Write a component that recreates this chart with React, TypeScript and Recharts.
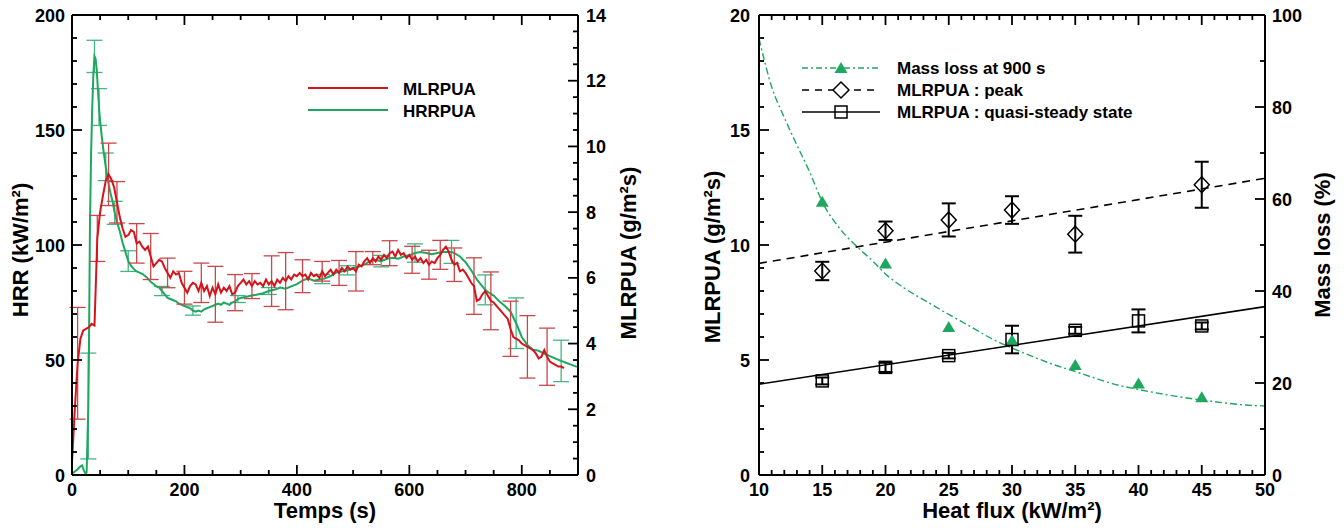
import React from "react";
import { ComposedChart, Line, Scatter, XAxis, YAxis, ErrorBar, Legend } from "recharts";

if (typeof document !== "undefined") document.body.style.margin = "0";

const FONT = "'Liberation Sans', Arial, Helvetica, sans-serif";
const RED = "#d3141b";
const RED_BAR = "#c9474a";
const GREEN = "#1ea75e";
const GREEN_BAR = "#44b482";

// ---- left chart: time series (t [s], value[, error]) ----
// MLRPUA in g/m²s (right axis)
const mlrpua = [
  [0, 0.4], [5, 2.0], [10, 3.4, 1.7], [15, 4.15], [20, 4.4], [25, 4.45], [30, 4.5], [35, 4.6], [40, 4.55],
  [45, 7.2, 0.7], [50, 8.0], [55, 8.5], [60, 8.95], [65, 9.15, 0.95], [70, 9.0], [75, 8.75], [80, 8.3, 0.63],
  [85, 7.85], [90, 7.5], [95, 7.25], [100, 7.3], [105, 7.45], [110, 7.4], [115, 7.05, 0.6], [120, 7.1],
  [125, 6.95], [130, 6.85], [135, 6.95], [140, 6.65, 0.7], [145, 6.35], [150, 6.45], [155, 6.55], [160, 6.5],
  [165, 6.3], [170, 6.15, 0.45], [175, 6.0], [180, 6.2], [185, 6.1], [190, 6.15], [195, 5.85], [200, 5.7, 0.5],
  [205, 5.55], [210, 5.75], [215, 5.85], [220, 5.8], [225, 5.6], [230, 5.85, 0.6], [235, 5.6], [240, 5.75],
  [245, 5.45], [250, 5.7], [255, 5.5, 0.85], [260, 5.8], [265, 5.55], [270, 5.7], [275, 5.6], [280, 5.75],
  [285, 5.5], [290, 5.55, 0.55], [295, 5.75], [300, 5.85], [305, 5.95], [310, 5.8], [315, 5.9], [320, 5.75, 0.38],
  [325, 5.9], [330, 5.8], [335, 5.85], [340, 5.75], [345, 5.95], [350, 5.8], [355, 5.9, 0.77], [360, 5.75],
  [365, 5.95], [370, 5.85], [375, 6.0], [380, 5.9, 0.87], [385, 6.05], [390, 5.95], [395, 6.1], [400, 6.05],
  [405, 6.15], [410, 6.05, 0.5], [415, 6.1], [420, 5.95], [425, 6.15], [430, 6.05], [435, 6.1], [440, 6.0],
  [445, 6.2, 0.3], [450, 6.05], [455, 6.15], [460, 6.25], [465, 6.1], [470, 6.25], [475, 6.15, 0.38], [480, 6.3],
  [485, 6.2], [490, 6.35], [495, 6.25], [500, 6.3], [505, 6.2, 0.6], [510, 6.4], [515, 6.35], [520, 6.5],
  [525, 6.6], [530, 6.45], [535, 6.6, 0.2], [540, 6.5], [545, 6.65], [550, 6.55], [555, 6.7], [560, 6.6],
  [565, 6.75, 0.38], [570, 6.8], [575, 6.65], [580, 6.85], [585, 6.7], [590, 6.75], [595, 6.6], [600, 6.7],
  [605, 6.55, 0.41], [610, 6.65], [615, 6.5], [620, 6.6], [625, 6.45], [630, 6.55], [635, 6.4, 0.44], [640, 6.5],
  [645, 6.45], [650, 6.6], [655, 6.7, 0.44], [660, 6.85], [665, 6.95], [670, 6.8], [675, 6.55], [680, 6.4, 0.51],
  [685, 6.45], [690, 6.2], [695, 6.25], [700, 6.15], [705, 6.0], [710, 5.85], [715, 5.75, 0.86], [720, 5.3],
  [725, 5.35], [730, 5.5], [735, 5.6], [740, 5.45], [745, 5.3, 0.88], [750, 5.25], [755, 5.15], [760, 5.05],
  [765, 4.95], [770, 4.85], [775, 4.75], [780, 4.45, 0.84], [785, 4.2], [790, 4.15], [795, 4.1], [800, 4.0],
  [805, 3.95], [810, 3.9, 0.95], [815, 3.85], [820, 3.8], [825, 3.7], [830, 3.55], [835, 3.6], [840, 3.8],
  [845, 3.6, 0.87], [850, 3.45], [855, 3.4], [860, 3.35], [865, 3.3], [870, 3.3], [875, 3.25],
];

// HRRPUA in kW/m² (left axis)
const hrrpua = [
  [0, 0.5], [5, 1.5], [10, 2.5], [15, 3.8], [18, 4.2], [21, 2.0], [24, 0.5], [26, 1], [28, 20], [29, 30, 23],
  [30, 50], [32, 110], [34, 140], [36, 160], [38, 174], [40, 182, 7], [42, 181], [44, 176], [46, 168],
  [48, 160, 8], [50, 154], [53, 147], [56, 141], [60, 134, 6], [64, 128], [68, 123], [72, 119], [76, 114, 5],
  [80, 110], [85, 106], [90, 101], [95, 97], [100, 93, 4.5], [105, 91], [110, 89.5], [115, 88.5], [120, 88],
  [125, 87.5], [130, 86.5], [135, 85.5], [140, 84], [145, 83], [150, 82], [155, 81.5], [160, 80, 2], [165, 78.5],
  [170, 77], [175, 76.5], [180, 76], [185, 75.5], [190, 74.5], [195, 74], [200, 73.5], [205, 73], [210, 72.5],
  [215, 71.5, 2], [220, 71], [225, 71.5], [230, 71], [235, 72], [240, 72.5], [245, 73], [250, 73.5], [255, 74],
  [260, 74.5], [265, 74], [270, 75], [275, 74.5], [280, 74], [285, 75], [290, 75.5], [295, 76.5, 1.5], [300, 77],
  [310, 77.5], [320, 78], [330, 78.5], [340, 79], [350, 80, 1.5], [360, 80.5], [370, 81.5], [380, 81], [390, 82],
  [400, 83], [410, 84.5], [420, 85.5], [430, 84.5], [440, 85], [445, 85.2, 2], [450, 85.5], [460, 86.5],
  [470, 88], [480, 88.5], [490, 89, 2], [500, 90], [510, 90.5], [520, 91.5], [530, 93], [540, 93.5],
  [550, 93, 2.5], [560, 94], [570, 94.5], [580, 94], [590, 95], [600, 95.5], [610, 96.5, 4], [620, 97],
  [630, 96.5], [640, 96], [650, 96.5], [660, 97], [670, 97], [675, 97, 5], [680, 96.5], [690, 95], [700, 92.5],
  [710, 89], [720, 85], [730, 82], [735, 80.5, 6.5], [740, 79.5], [750, 78], [760, 75.5], [770, 73.5], [780, 71],
  [790, 66, 11], [800, 60], [810, 56.5], [820, 54.5], [830, 54], [840, 52.8], [850, 51.7], [860, 50.6],
  [870, 49.6, 9], [880, 48.7], [890, 47.8], [898, 47],
];

const timeTicks = [0, 50, 100, 150, 200, 250, 300, 350, 400, 450, 500, 550, 600, 650, 700, 750, 800, 850, 900];
const timeLabels = [0, 200, 400, 600, 800];
const hrrTicks = [0, 10, 20, 30, 40, 50, 60, 70, 80, 90, 100, 110, 120, 130, 140, 150, 160, 170, 180, 190, 200];
const hrrLabels = [0, 50, 100, 150, 200];
const mlrTicks = [0, 0.5, 1, 1.5, 2, 2.5, 3, 3.5, 4, 4.5, 5, 5.5, 6, 6.5, 7, 7.5, 8, 8.5, 9, 9.5, 10, 10.5, 11, 11.5, 12, 12.5, 13, 13.5, 14];
const mlrLabels = [0, 2, 4, 6, 8, 10, 12, 14];

// ---- right chart: heat flux ----
const fluxPoints = [15, 20, 25, 30, 35, 40, 45];
const massLoss = [59.4, 46.0, 32.2, 29.3, 23.9, 19.9, 16.9];
const peakFlux = [15, 20, 25, 30, 35, 45];
const peakValues = [8.87, 10.62, 11.09, 11.52, 10.47, 12.62];
const peakErrors = [0.4, 0.4, 0.72, 0.6, 0.8, 1.0];
const steadyValues = [4.09, 4.68, 5.19, 5.89, 6.29, 6.7, 6.48];
const steadyErrors = [0.15, 0.2, 0.12, 0.6, 0.15, 0.5, 0.15];
const massFitFlux = [10, 11, 12, 13, 14, 15, 16.5, 18, 19, 20, 21.5, 23.5, 25, 26.5, 28.5, 30, 31.5, 33.5, 35, 36.5, 38, 40, 41.5, 43, 45, 47, 49, 50];
const massFitValues = [94.9, 84.4, 77.7, 71.7, 65.9, 59.4, 53.2, 49.0, 46.5, 43.7, 40.6, 37.3, 34.9, 32.6, 29.5, 27.6, 25.9, 23.8, 22.5, 21.1, 19.8, 18.6, 17.8, 17.1, 16.3, 15.6, 15.1, 15.0];
const fitFlux = [10, 50];
const peakFit = [9.2, 12.9];
const steadyFit = [3.95, 7.32];

const fluxTicks = [10, 11, 12, 13, 14, 15, 16, 17, 18, 19, 20, 21, 22, 23, 24, 25, 26, 27, 28, 29, 30, 31, 32, 33, 34, 35, 36, 37, 38, 39, 40, 41, 42, 43, 44, 45, 46, 47, 48, 49, 50];
const fluxLabels = [10, 15, 20, 25, 30, 35, 40, 45, 50];
const rateTicks = [0, 1, 2, 3, 4, 5, 6, 7, 8, 9, 10, 11, 12, 13, 14, 15, 16, 17, 18, 19, 20];
const rateLabels = [0, 5, 10, 15, 20];
const massTicks = [0, 10, 20, 30, 40, 50, 60, 70, 80, 90, 100];
const massLabels = [0, 20, 40, 60, 80, 100];

const mlrData = mlrpua.map(([t, v, e]) => ({ t, v, e }));
const hrrData = hrrpua.map(([t, v, e]) => ({ t, v, e }));
const massData = fluxPoints.map((x, i) => ({ x, y: massLoss[i] }));
const peakData = peakFlux.map((x, i) => ({ x, y: peakValues[i], e: peakErrors[i] }));
const steadyData = fluxPoints.map((x, i) => ({ x, y: steadyValues[i], e: steadyErrors[i] }));
const massFitData = massFitFlux.map((x, i) => ({ x, y: massFitValues[i] }));
const peakFitData = fitFlux.map((x, i) => ({ x, y: peakFit[i] }));
const steadyFitData = fitFlux.map((x, i) => ({ x, y: steadyFit[i] }));

const textStyle = { fontFamily: FONT, fontSize: 18, fontWeight: 700, fill: "#000" };
const legendStyle = { fontFamily: FONT, fontSize: 17, fontWeight: 700, fill: "#000" };
const titleStyle = { fontFamily: FONT, fontSize: 22, fontWeight: 700, fill: "#000" };
const axisLine = { stroke: "#000", strokeWidth: 2 };

// inward ticks, long on the majors, text only where labelled
function makeTick(side: string, majors: number[], labelled: boolean, gap = 7) {
  return (props: any) => {
    const { x, y, payload } = props;
    const v = payload.value;
    const major = majors.indexOf(v) >= 0;
    const len = major ? 10 : 5;
    let x2 = x;
    let y2 = y;
    if (side === "bottom") y2 = y - len;
    if (side === "top") y2 = y + len;
    if (side === "left") x2 = x + len;
    if (side === "right") x2 = x - len;
    let label = null;
    if (labelled && major) {
      if (side === "bottom") label = <text x={x} y={y + 21} textAnchor="middle" style={textStyle}>{v}</text>;
      if (side === "left") label = <text x={x - gap} y={y + 6.5} textAnchor="end" style={textStyle}>{v}</text>;
      if (side === "right") label = <text x={x + gap} y={y + 6.5} textAnchor="start" style={textStyle}>{v}</text>;
    }
    return (
      <g>
        <line x1={x} y1={y} x2={x2} y2={y2} stroke="#000" strokeWidth={1.8} />
        {label}
      </g>
    );
  };
}

const hTitle = (text: string, below: number) => (p: any) => {
  const vb = p.viewBox;
  return (
    <text x={vb.x + vb.width / 2} y={vb.y + below} textAnchor="middle" style={titleStyle}>
      {text}
    </text>
  );
};

const vTitle = (text: string, dx: number, dy = 0) => (p: any) => {
  const vb = p.viewBox;
  const x = vb.x + dx;
  const y = vb.y + vb.height / 2 + dy;
  return (
    <text x={x} y={y} textAnchor="middle" dominantBaseline="central" transform={`rotate(-90 ${x} ${y})`} style={titleStyle}>
      {text}
    </text>
  );
};

const axisCommon = {
  type: "number" as const,
  interval: 0 as const,
  allowDataOverflow: true,
  tickSize: 0,
  tickMargin: 0,
  tickLine: false,
  axisLine,
};

function LeftLegend() {
  return (
    <svg width={200} height={56}>
      <line x1={8} x2={88} y1={18} y2={18} stroke={RED} strokeWidth={2} />
      <text x={103} y={24.5} style={legendStyle}>MLRPUA</text>
      <line x1={8} x2={88} y1={40} y2={40} stroke={GREEN} strokeWidth={2} />
      <text x={103} y={46.5} style={legendStyle}>HRRPUA</text>
    </svg>
  );
}

function RightLegend() {
  const y = [18, 40, 62];
  const mx = 49;
  return (
    <svg width={420} height={78}>
      <line x1={10} x2={88} y1={y[0]} y2={y[0]} stroke={GREEN} strokeWidth={1.4} strokeDasharray="6 3 2 3" />
      <path d={`M${mx},${y[0] - 6}L${mx + 6.5},${y[0] + 5}L${mx - 6.5},${y[0] + 5}Z`} fill={GREEN} />
      <text x={105} y={y[0] + 6} style={legendStyle}>Mass loss at 900 s</text>
      <line x1={10} x2={88} y1={y[1]} y2={y[1]} stroke="#000" strokeWidth={1.6} strokeDasharray="7 6" />
      <path d={`M${mx},${y[1] - 8}L${mx + 8},${y[1]}L${mx},${y[1] + 8}L${mx - 8},${y[1]}Z`} fill="#fff" stroke="#000" strokeWidth={1.5} />
      <text x={105} y={y[1] + 6} style={legendStyle}>MLRPUA : peak</text>
      <line x1={10} x2={88} y1={y[2]} y2={y[2]} stroke="#000" strokeWidth={1.6} />
      <rect x={mx - 6} y={y[2] - 6} width={12} height={12} fill="none" stroke="#000" strokeWidth={1.5} />
      <text x={105} y={y[2] + 6} style={legendStyle}>MLRPUA : quasi-steady state</text>
    </svg>
  );
}

const triangle = (p: any) => (
  <path d={`M${p.cx},${p.cy - 6}L${p.cx + 6.5},${p.cy + 5}L${p.cx - 6.5},${p.cy + 5}Z`} fill={GREEN} />
);
const diamond = (p: any) => (
  <path d={`M${p.cx},${p.cy - 8}L${p.cx + 7.5},${p.cy}L${p.cx},${p.cy + 8}L${p.cx - 7.5},${p.cy}Z`} fill="none" stroke="#000" strokeWidth={1.5} />
);
const square = (p: any) => (
  <rect x={p.cx - 6} y={p.cy - 6} width={12} height={12} fill="none" stroke="#000" strokeWidth={1.5} />
);

function TimeChart() {
  return (
    <ComposedChart width={672} height={528} margin={{ top: 14, right: 0, bottom: 0, left: 0 }}>
      <XAxis {...axisCommon} xAxisId="b" dataKey="t" domain={[0, 900]} ticks={timeTicks} height={53}
        tick={makeTick("bottom", timeLabels, true)} label={hTitle("Temps (s)", 43)} />
      <XAxis {...axisCommon} xAxisId="top" orientation="top" dataKey="t" domain={[0, 900]} ticks={timeTicks} height={1}
        tick={makeTick("top", timeLabels, false)} />
      <YAxis {...axisCommon} yAxisId="hrr" domain={[0, 200]} ticks={hrrTicks} width={72}
        tick={makeTick("left", hrrLabels, true, 7)} label={vTitle("HRR (kW/m²)", 20, 5)} />
      <YAxis {...axisCommon} yAxisId="mlr" orientation="right" domain={[0, 14]} ticks={mlrTicks} width={94}
        tick={makeTick("right", mlrLabels, true, 8)} label={vTitle("MLRPUA (g/m²s)", 50, 8)} />
      <Line xAxisId="b" yAxisId="hrr" data={hrrData} dataKey="v" stroke={GREEN} strokeWidth={2} dot={false} isAnimationActive={false}>
        <ErrorBar dataKey="e" direction="y" width={8} stroke={GREEN_BAR} strokeWidth={1.3} isAnimationActive={false} />
      </Line>
      <Line xAxisId="b" yAxisId="mlr" data={mlrData} dataKey="v" stroke={RED} strokeWidth={2} dot={false} isAnimationActive={false}>
        <ErrorBar dataKey="e" direction="y" width={8} stroke={RED_BAR} strokeWidth={1.3} isAnimationActive={false} />
      </Line>
      <Legend layout="vertical" align="center" verticalAlign="middle" content={() => <LeftLegend />}
        wrapperStyle={{ left: 300, top: 70, width: 200, height: 56 }} />
    </ComposedChart>
  );
}

function FluxChart() {
  return (
    <ComposedChart width={672} height={528} margin={{ top: 14, right: 0, bottom: 0, left: 0 }}>
      <XAxis {...axisCommon} xAxisId="b" dataKey="x" domain={[10, 50]} ticks={fluxTicks} height={53}
        tick={makeTick("bottom", fluxLabels, true)} label={hTitle("Heat flux (kW/m²)", 43)} />
      <XAxis {...axisCommon} xAxisId="top" orientation="top" dataKey="x" domain={[10, 50]} ticks={fluxTicks} height={1}
        tick={makeTick("top", fluxLabels, false)} />
      <YAxis {...axisCommon} yAxisId="mlr" domain={[0, 20]} ticks={rateTicks} width={87}
        tick={makeTick("left", rateLabels, true, 9)} label={vTitle("MLRPUA (g/m²s)", 40, 12)} />
      <YAxis {...axisCommon} yAxisId="mass" orientation="right" domain={[0, 100]} ticks={massTicks} width={79}
        tick={makeTick("right", massLabels, true, 7)} label={vTitle("Mass loss (%)", 57, 0)} />
      <Line xAxisId="b" yAxisId="mass" data={massFitData} dataKey="y" type="monotone" stroke={GREEN} strokeWidth={1.4}
        strokeDasharray="7 3 2 3" dot={false} isAnimationActive={false} />
      <Line xAxisId="b" yAxisId="mlr" data={peakFitData} dataKey="y" stroke="#000" strokeWidth={1.6}
        strokeDasharray="8 6" dot={false} isAnimationActive={false} />
      <Line xAxisId="b" yAxisId="mlr" data={steadyFitData} dataKey="y" stroke="#000" strokeWidth={1.6}
        dot={false} isAnimationActive={false} />
      <Scatter xAxisId="b" yAxisId="mass" data={massData} dataKey="y" shape={triangle} isAnimationActive={false} />
      <Scatter xAxisId="b" yAxisId="mlr" data={peakData} dataKey="y" shape={diamond} isAnimationActive={false}>
        <ErrorBar dataKey="e" direction="y" width={7} stroke="#000" strokeWidth={2} isAnimationActive={false} />
      </Scatter>
      <Scatter xAxisId="b" yAxisId="mlr" data={steadyData} dataKey="y" shape={square} isAnimationActive={false}>
        <ErrorBar dataKey="e" direction="y" width={7} stroke="#000" strokeWidth={2} isAnimationActive={false} />
      </Scatter>
      <Legend layout="vertical" align="center" verticalAlign="middle" content={() => <RightLegend />}
        wrapperStyle={{ left: 120, top: 50, width: 420, height: 78 }} />
    </ComposedChart>
  );
}

export default function App() {
  return (
    <div style={{ display: "flex", width: 1344, height: 528 }}>
      <TimeChart />
      <FluxChart />
    </div>
  );
}
